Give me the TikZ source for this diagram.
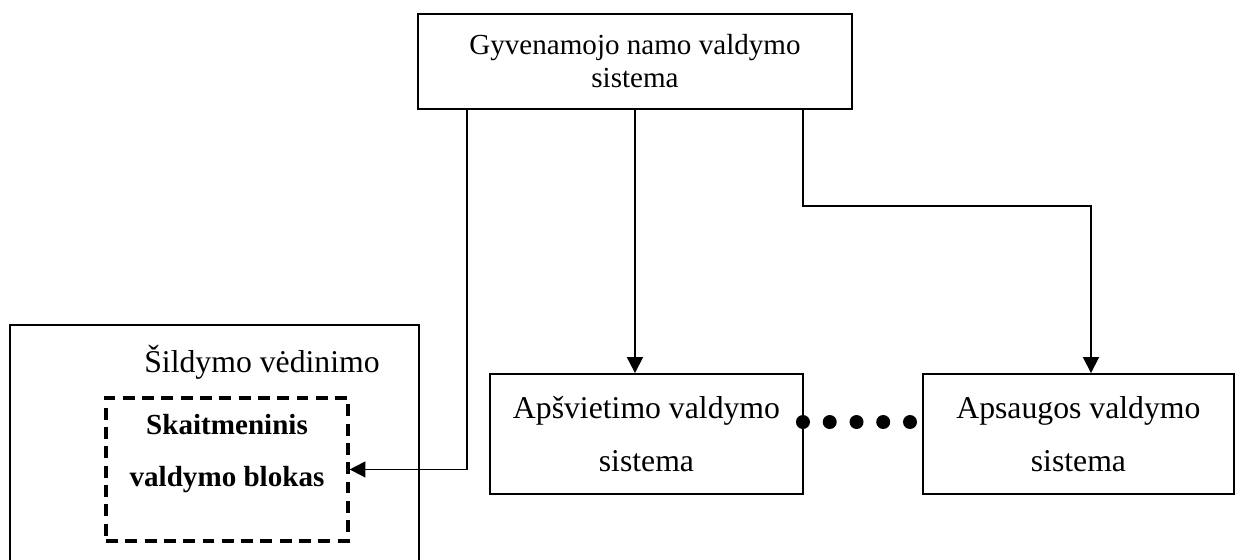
\documentclass[tikz,border=0pt]{standalone}
\usepackage{fontspec}
\setmainfont{Liberation Serif}
\usetikzlibrary{arrows.meta, positioning}

\begin{document}
\begin{tikzpicture}[
    box/.style={rectangle, draw, line width=0.7pt, font=\fontsize{12}{20}\selectfont, align=center, inner sep=2pt},
    block/.style={rectangle, draw, line width=1.2pt, dash pattern=on 4.5pt off 2.8pt},
    dot/.style={circle, fill=black, minimum size=0.186cm, inner sep=0pt},
    txt/.style={font=\fontsize{12}{20}\selectfont, align=center, inner sep=0pt},
    arr/.style={line width=0.7pt, -{Triangle[length=6pt, width=6pt]}}
]

% Picture frame
\useasboundingbox (0, 0) rectangle (16.444, 7.444);
\clip (0, 0) rectangle (16.444, 7.444);

% Main system (top)
\node[box, minimum width=5.77cm, minimum height=1.263cm, font=\fontsize{11}{12.5}\selectfont] (sys) at (8.441, 6.627) {Gyvenamojo namo valdymo\\sistema};

% Heating and ventilation system (left)
\node[box, minimum width=5.437cm, minimum height=3.656cm] (sv) at (2.851, 1.296) {};
\node[txt] (svtitle) at (3.483, 2.632) {Šildymo vėdinimo};
\node[block, minimum width=3.217cm, minimum height=1.901cm] (blokas) at (3.018, 1.203) {};
\node[txt, font=\fontsize{11}{19.7}\selectfont\bfseries] (blokastxt) at (3.018, 1.409) {Skaitmeninis\\valdymo blokas};

% Lighting and security systems (right)
\node[box, minimum width=4.161cm, minimum height=1.595cm] (apsv) at (8.594, 1.675) {Apšvietimo valdymo\\sistema};
\node[box, minimum width=4.134cm, minimum height=1.595cm] (apsaug) at (14.336, 1.675) {Apsaugos valdymo\\sistema};

% Dots between the subsystems
\foreach \i/\x in {1/10.674, 2/11.030, 3/11.386, 4/11.741, 5/12.097}
    \node[dot] (d\i) at (\x, 1.834) {};

% Bend points of the connectors
\coordinate (k1) at (6.208, 1.196);
\coordinate (k3) at (10.674, 4.706);
\coordinate (k2) at (14.503, 4.706);

% Connectors
\draw[arr] (sys.south -| k1) |- (blokas.east);
\draw[arr] (sys.south) -- (sys.south |- apsv.north);
\draw[arr] (sys.south -| k3) -- (k3) -- (k2) -- (k2 |- apsaug.north);

\end{tikzpicture}
\end{document}
